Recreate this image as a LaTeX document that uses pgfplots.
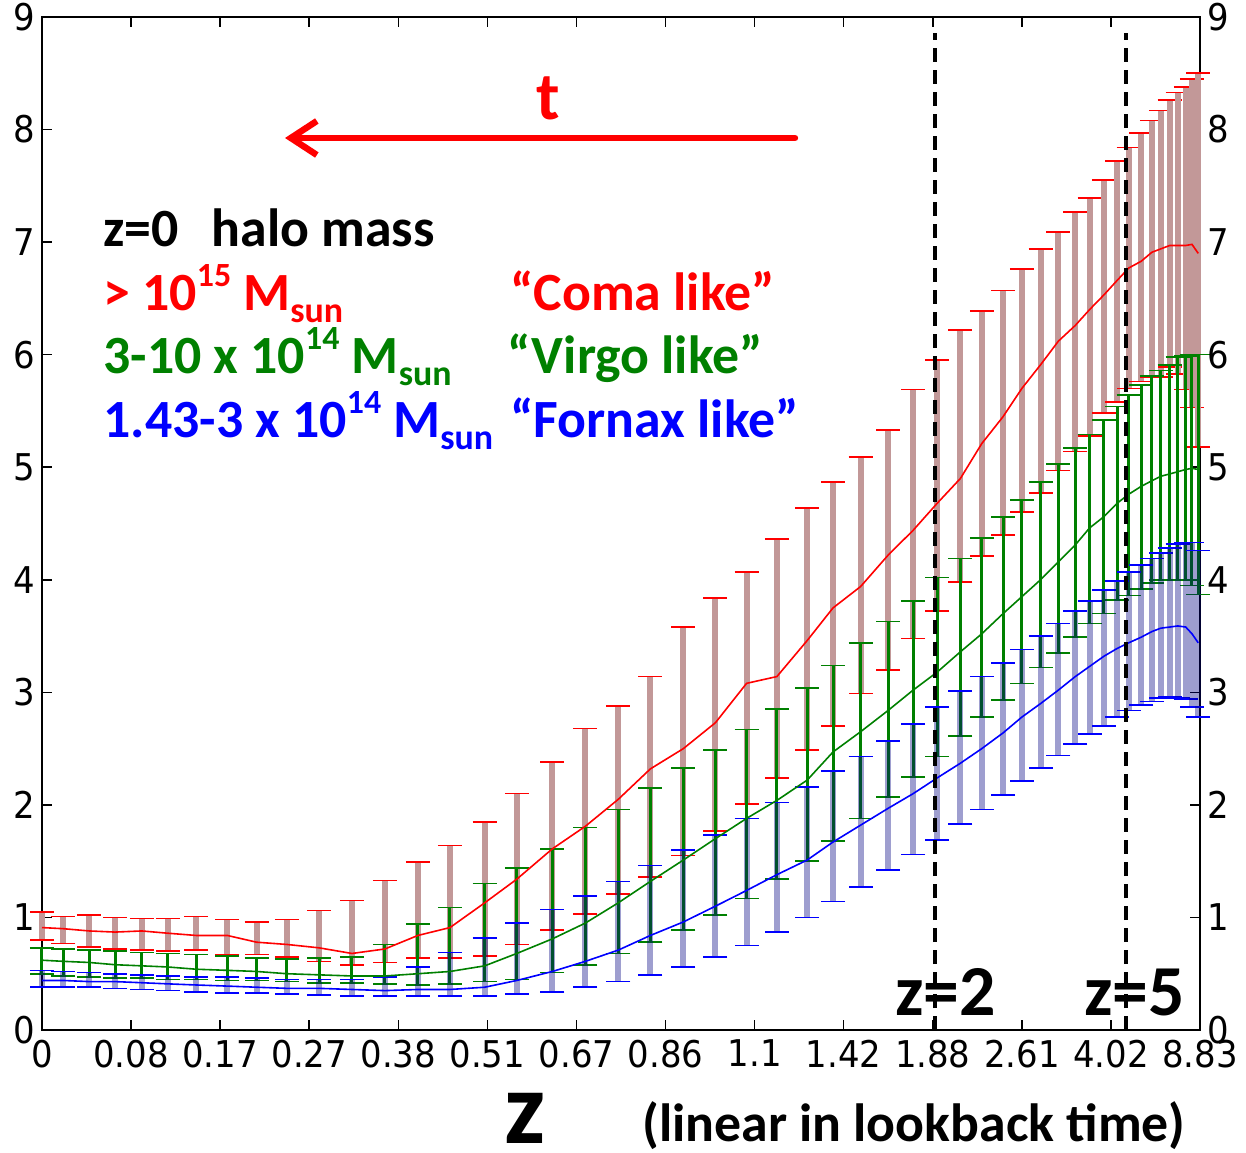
\documentclass[border=0pt]{standalone}
\usepackage{fontspec}
\setmainfont{Carlito}
\newfontfamily\dejavu[FakeStretch=0.92]{DejaVu Sans}
\usepackage{pgfplots}
\usepackage{pgfplotstable}
\pgfplotsset{compat=1.18}
\usetikzlibrary{arrows.meta}

\definecolor{cred}{RGB}{255,0,0}
\definecolor{cgreen}{RGB}{0,128,0}
\definecolor{cblue}{RGB}{0,0,255}
\definecolor{redbar}{RGB}{194,152,152}
\definecolor{bluebar}{RGB}{0,0,128}

\newcommand\sups[1]{\raisebox{12bp}{\fontsize{17}{17}\selectfont #1}}
\newcommand\subs[1]{\raisebox{-6bp}{\fontsize{18}{18}\selectfont #1}}

\pgfplotstableread{
x y lo hi
0 0.91 0.80 1.05
0.24 0.90 0.77 1.01
0.53 0.88 0.74 1.02
0.82 0.87 0.72 1.00
1.12 0.88 0.71 0.99
1.41 0.86 0.70 0.99
1.73 0.84 0.71 1.01
2.08 0.84 0.67 0.98
2.41 0.78 0.67 0.96
2.75 0.76 0.65 0.98
3.11 0.73 0.61 1.06
3.48 0.68 0.58 1.15
3.85 0.72 0.60 1.33
4.22 0.84 0.64 1.49
4.58 0.91 0.64 1.64
4.97 1.13 0.66 1.85
5.33 1.34 0.76 2.10
5.73 1.61 0.89 2.38
6.10 1.81 1.03 2.68
6.47 2.05 1.21 2.88
6.83 2.32 1.36 3.14
7.20 2.50 1.55 3.58
7.56 2.73 1.77 3.84
7.91 3.08 2.01 4.07
8.25 3.14 2.24 4.36
8.59 3.46 2.49 4.64
8.88 3.75 2.70 4.87
9.19 3.94 2.99 5.09
9.50 4.22 3.20 5.33
9.78 4.44 3.48 5.69
10.05 4.68 3.72 5.95
10.31 4.90 3.98 6.22
10.55 5.21 4.21 6.39
10.79 5.45 4.40 6.57
11.00 5.70 4.60 6.76
11.21 5.91 4.77 6.94
11.41 6.12 4.97 7.09
11.60 6.26 5.14 7.27
11.76 6.40 5.28 7.39
11.92 6.53 5.48 7.55
12.07 6.66 5.58 7.72
12.20 6.77 5.70 7.84
12.34 6.83 5.76 7.97
12.46 6.91 5.80 8.08
12.56 6.94 5.80 8.17
12.66 6.97 5.89 8.26
12.75 6.97 5.83 8.33
12.84 6.97 5.69 8.38
12.91 6.98 5.53 8.45
12.98 6.90 5.18 8.50
}\reddata

\pgfplotstableread{
x y lo hi
0 0.62 0.50 0.73
0.24 0.61 0.48 0.72
0.53 0.60 0.47 0.71
0.82 0.58 0.46 0.70
1.12 0.57 0.46 0.69
1.41 0.56 0.45 0.68
1.73 0.54 0.45 0.67
2.08 0.53 0.44 0.66
2.41 0.52 0.44 0.64
2.75 0.50 0.43 0.63
3.11 0.49 0.42 0.64
3.48 0.48 0.42 0.65
3.85 0.48 0.41 0.76
4.22 0.50 0.40 0.94
4.58 0.52 0.41 1.09
4.97 0.57 0.43 1.30
5.33 0.68 0.45 1.44
5.73 0.81 0.51 1.61
6.10 0.95 0.58 1.80
6.47 1.13 0.68 1.96
6.83 1.32 0.78 2.15
7.20 1.51 0.89 2.33
7.56 1.70 1.02 2.49
7.91 1.88 1.17 2.67
8.25 2.04 1.34 2.85
8.59 2.22 1.50 3.04
8.88 2.47 1.68 3.24
9.19 2.65 1.88 3.44
9.50 2.84 2.07 3.63
9.78 3.02 2.25 3.81
10.05 3.18 2.43 4.02
10.31 3.36 2.61 4.19
10.55 3.52 2.78 4.37
10.79 3.70 2.93 4.56
11.00 3.85 3.08 4.71
11.21 4.00 3.22 4.87
11.41 4.16 3.35 5.03
11.60 4.31 3.49 5.17
11.76 4.46 3.61 5.29
11.92 4.56 3.70 5.42
12.07 4.68 3.82 5.54
12.20 4.76 3.86 5.64
12.34 4.83 3.92 5.73
12.46 4.88 3.97 5.81
12.56 4.92 4.00 5.86
12.66 4.94 4.00 5.91
12.75 4.96 4.00 5.98
12.84 4.98 4.00 5.99
12.91 4.99 3.95 6.00
12.98 4.98 3.87 6.00
}\greendata

\pgfplotstableread{
x y lo hi
0 0.44 0.38 0.53
0.24 0.44 0.38 0.52
0.53 0.43 0.38 0.51
0.82 0.43 0.37 0.50
1.12 0.42 0.36 0.49
1.41 0.41 0.35 0.48
1.73 0.40 0.34 0.47
2.08 0.39 0.33 0.47
2.41 0.38 0.33 0.46
2.75 0.37 0.32 0.45
3.11 0.37 0.31 0.45
3.48 0.36 0.30 0.45
3.85 0.35 0.30 0.47
4.22 0.36 0.30 0.56
4.58 0.36 0.30 0.69
4.97 0.38 0.30 0.82
5.33 0.44 0.32 0.95
5.73 0.52 0.34 1.07
6.10 0.61 0.38 1.19
6.47 0.71 0.43 1.32
6.83 0.84 0.49 1.46
7.20 0.96 0.56 1.60
7.56 1.10 0.65 1.73
7.91 1.24 0.75 1.88
8.25 1.38 0.87 2.02
8.59 1.51 1.00 2.16
8.88 1.67 1.14 2.30
9.19 1.82 1.27 2.43
9.50 1.97 1.42 2.57
9.78 2.10 1.56 2.72
10.05 2.24 1.69 2.87
10.31 2.37 1.83 3.01
10.55 2.50 1.96 3.14
10.79 2.64 2.09 3.26
11.00 2.78 2.21 3.38
11.21 2.90 2.33 3.50
11.41 3.02 2.44 3.61
11.60 3.14 2.54 3.72
11.76 3.23 2.63 3.81
11.92 3.32 2.70 3.91
12.07 3.39 2.78 3.99
12.20 3.44 2.84 4.07
12.34 3.49 2.89 4.13
12.46 3.54 2.92 4.19
12.56 3.57 2.95 4.24
12.66 3.58 2.96 4.28
12.75 3.59 2.95 4.32
12.84 3.58 2.94 4.33
12.91 3.52 2.87 4.33
12.98 3.44 2.78 4.26
}\bluedata

\begin{document}
\begin{tikzpicture}
\begin{axis}[
  scale only axis, width=579bp, height=506.5bp,
  xmin=0, xmax=13, ymin=0, ymax=9,
  clip=false,
  xtick={0,...,13},
  xticklabels={0,0.08,0.17,0.27,0.38,0.51,0.67,0.86,1.1,1.42,1.88,2.61,4.02,8.83},
  ytick={0,...,9},
  tick pos=both, tick align=inside, major tick length=5bp,
  ticklabel style={font=\dejavu\fontsize{18.5}{18.5}\selectfont},
  xticklabel style={yshift=-1.5bp},
  /pgf/number format/assume math mode=true,
  axis line style={line width=1bp},
  every tick/.style={black, line width=0.8bp},
]
\coordinate (SW) at (rel axis cs:0,0);
% error bars
\addplot[draw=none, mark=none, forget plot, error bars/.cd, y dir=both, y explicit,
  error mark=|,
  error bar style={draw=redbar, line width=3bp},
  error mark options={draw=cred, line width=0.8bp, mark size=6bp}]
  table[x=x, y=y, y error plus expr=\thisrow{hi}-\thisrow{y}, y error minus expr=\thisrow{y}-\thisrow{lo}] {\reddata};
\addplot[draw=none, mark=none, forget plot, error bars/.cd, y dir=both, y explicit,
  error mark=|,
  error bar style={draw=cgreen, line width=1.5bp},
  error mark options={draw=cgreen, line width=0.8bp, mark size=6bp}]
  table[x=x, y=y, y error plus expr=\thisrow{hi}-\thisrow{y}, y error minus expr=\thisrow{y}-\thisrow{lo}] {\greendata};
\addplot[draw=none, mark=none, forget plot, error bars/.cd, y dir=both, y explicit,
  error mark=|,
  error bar style={draw=bluebar, draw opacity=0.38, line width=3bp},
  error mark options={draw=cblue, draw opacity=1, line width=0.8bp, mark size=6bp}]
  table[x=x, y=y, y error plus expr=\thisrow{hi}-\thisrow{y}, y error minus expr=\thisrow{y}-\thisrow{lo}] {\bluedata};
% mean lines
\addplot[cred, line width=0.8bp, mark=none] table[x=x, y=y] {\reddata};
\addplot[cgreen, line width=0.8bp, mark=none] table[x=x, y=y] {\greendata};
\addplot[cblue, line width=0.8bp, mark=none] table[x=x, y=y] {\bluedata};
% z markers
\addplot[black, line width=2bp, dash pattern=on 7bp off 4bp] coordinates {(10.03,0) (10.03,8.86)};
\addplot[black, line width=2bp, dash pattern=on 7bp off 4bp] coordinates {(12.17,0) (12.17,8.86)};
\end{axis}
\begin{axis}[
  scale only axis, width=579bp, height=506.5bp,
  xmin=0, xmax=13, ymin=0, ymax=9,
  axis x line=none, axis y line*=right,
  y axis line style={draw=none},
  ytick={0,...,9}, major tick length=0pt,
  ticklabel style={font=\dejavu\fontsize{18.5}{18.5}\selectfont},
  /pgf/number format/assume math mode=true,
]
\addplot[draw=none] coordinates {(0,0) (13,9)};
\end{axis}

\begin{scope}[every node/.style={inner sep=0pt, font=\bfseries\fontsize{27}{27}\selectfont}]
\node[anchor=base west] at ([shift={(30.5bp,391.5bp)}]SW) {z=0\hspace{16.5bp}halo mass};
\node[anchor=base west, text=cred] at ([shift={(30.5bp,359.5bp)}]SW) {> 10\sups{15} M\subs{sun}};
\node[anchor=base west, text=cred] at ([shift={(234bp,359.5bp)}]SW) {“Coma like”};
\node[anchor=base west, text=cgreen] at ([shift={(30.5bp,328bp)}]SW) {3-10 x 10\sups{14} M\subs{sun}};
\node[anchor=base west, text=cgreen] at ([shift={(232.5bp,328bp)}]SW) {“Virgo like”};
\node[anchor=base west, text=cblue] at ([shift={(30.5bp,296bp)}]SW) {1.43-3 x 10\sups{14} M\subs{sun}};
\node[anchor=base west, text=cblue] at ([shift={(234bp,296bp)}]SW) {“Fornax like”};
\node[anchor=base, text=cred, font=\bfseries\fontsize{34}{34}\selectfont] at ([shift={(253bp,455bp)}]SW) {t};
\node[anchor=base west, font=\bfseries\fontsize{36}{36}\selectfont] at ([shift={(426.5bp,7.5bp)}]SW) {z=2};
\node[anchor=base west, font=\bfseries\fontsize{36}{36}\selectfont] at ([shift={(521bp,7.5bp)}]SW) {z=5};
\node[anchor=base, font=\bfseries\fontsize{52}{52}\selectfont] at ([shift={(241.5bp,-56.5bp)}]SW) {z};
\node[anchor=base west, font=\bfseries\fontsize{27}{27}\selectfont] at ([shift={(300bp,-55.5bp)}]SW) {(linear in lookback time)};
\end{scope}
\draw[cred, line width=3.2bp, line cap=round, -{Straight Barb[length=13bp,width=17bp]}]
  ([shift={(376.5bp,446bp)}]SW) -- ([shift={(121.5bp,446bp)}]SW);

\pgfresetboundingbox
\path ([shift={(-21bp,-61.5bp)}]SW) rectangle ([shift={(602bp,515bp)}]SW);
\end{tikzpicture}
\end{document}
